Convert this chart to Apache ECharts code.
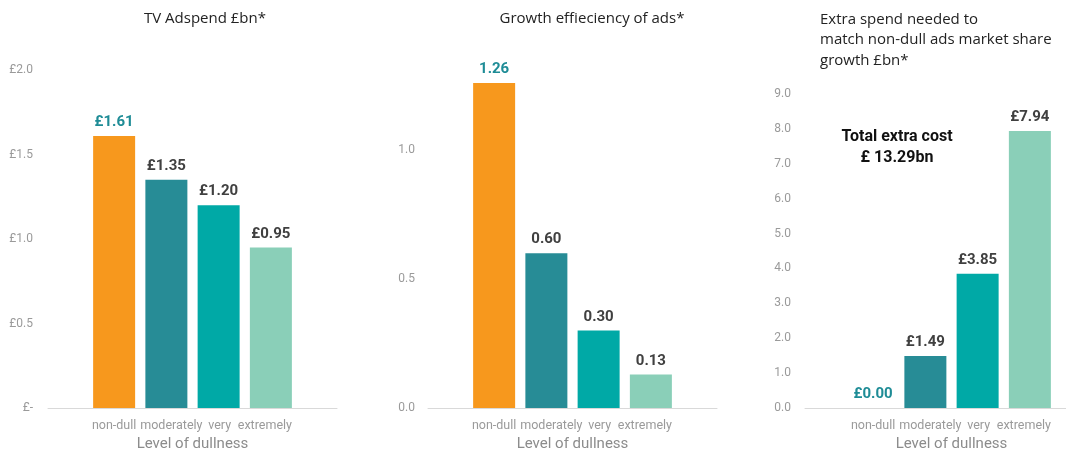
<!DOCTYPE html>
<html>
<head>
<meta charset="utf-8">
<script src="https://cdn.jsdelivr.net/npm/echarts@6/dist/echarts.min.js"></script>
<style>html,body{margin:0;padding:0;background:#fff}#c{width:1066px;height:450px}</style>
</head>
<body>
<div id="c"></div>
<script>
const categories = ['non-dull', 'moderately', 'very', 'extremely'];
const adspend = [1.61, 1.35, 1.20, 0.95];
const efficiency = [1.26, 0.60, 0.30, 0.13];
const extraSpend = [0.00, 1.49, 3.85, 7.94];
const adspendTicks = ['£-', '£0.5', '£1.0', '£1.5', '£2.0'];
const titles = ['TV Adspend £bn*', 'Growth effieciency of ads*', 'Extra spend needed to\nmatch non-dull ads market share\ngrowth £bn*'];
const totalNote = 'Total extra cost\n£ 13.29bn';
const axisTitle = 'Level of dullness';

const barColors = ['#F7981D', '#278C96', '#00A9A6', '#8ACFB8'];
const labelPads = [[0, 0, 0, 0], [0, 0, 0, 10], [0, 0, 0, 2], [0, 12, 0, 0]];
const FONT = 'Roboto';

const chart = echarts.init(document.getElementById('c'), null, {renderer: 'canvas'});

const panels = [
  {left: 88, top: 70, height: 338, baseLeft: 48, baseWidth: 289, max: 2.0, interval: 0.5, margin: 55,
   fmt: v => adspendTicks[Math.round(v / 0.5)], data: adspend, lab: v => '£' + v.toFixed(2)},
  {left: 468, top: 46.8, height: 361.2, baseLeft: 428, baseWidth: 289, max: 1.4, interval: 0.5, margin: 53,
   fmt: v => v.toFixed(1), data: efficiency, lab: v => v.toFixed(2)},
  {left: 847, top: 94, height: 314, baseLeft: 805, baseWidth: 261, max: 9, interval: 1, margin: 56,
   fmt: v => v.toFixed(1), data: extraSpend, lab: v => '£' + v.toFixed(2)}
];

const grid = [], xAxis = [], yAxis = [], series = [];
panels.forEach((p, i) => {
  grid.push({left: p.left, top: p.top, width: 209, height: p.height, containLabel: false, outerBoundsMode: 'none'});
  grid.push({left: p.baseLeft, top: p.top, width: p.baseWidth, height: p.height, containLabel: false, outerBoundsMode: 'none'});
  const g = i * 2;
  xAxis.push({
    type: 'category', gridIndex: g,
    data: categories.map((c, k) => ({value: c, textStyle: {padding: labelPads[k]}})),
    axisLine: {show: false}, axisTick: {show: false},
    axisLabel: {color: '#9a9a9a', fontFamily: FONT, fontSize: 12.5, margin: 11, interval: 0, hideOverlap: false},
    name: axisTitle, nameLocation: 'middle', nameGap: 28,
    nameTextStyle: {color: '#8c8c8c', fontFamily: FONT, fontSize: 15}
  });
  yAxis.push({
    type: 'value', gridIndex: g, min: 0, max: p.max, interval: p.interval,
    axisLine: {show: false}, axisTick: {show: false}, splitLine: {show: false},
    axisLabel: {color: '#9a9a9a', fontFamily: FONT, fontSize: 12, margin: p.margin,
      formatter: p.fmt, showMaxLabel: p.max % p.interval === 0}
  });
  xAxis.push({
    type: 'value', gridIndex: g + 1, min: 0, max: 1, position: 'bottom',
    axisLine: {show: true, lineStyle: {color: '#d9d9d9', width: 1}},
    axisTick: {show: false}, axisLabel: {show: false}, splitLine: {show: false}
  });
  yAxis.push({type: 'value', gridIndex: g + 1, show: false, min: 0, max: 1});
  series.push({
    type: 'bar', xAxisIndex: g, yAxisIndex: g, barWidth: 42, z: 3,
    data: p.data.map((v, k) => ({
      value: v,
      itemStyle: {color: barColors[k]},
      label: {color: k === 0 ? '#1E8C96' : '#404040'}
    })),
    label: {show: true, position: 'top', distance: 6, fontFamily: FONT, fontWeight: 'bold', fontSize: 15,
      formatter: d => p.lab(d.value)}
  });
});

chart.setOption({
  animation: false,
  grid, xAxis, yAxis, series,
  title: [
    {text: titles[0], left: 200, top: 6, textAlign: 'center',
     textStyle: {fontFamily: 'Open Sans', fontWeight: 'normal', fontSize: 15, color: '#222'}},
    {text: titles[1], left: 587, top: 6, textAlign: 'center',
     textStyle: {fontFamily: 'Open Sans', fontWeight: 'normal', fontSize: 15, color: '#222'}},
    {text: titles[2], left: 815, top: 4,
     textStyle: {fontFamily: 'Open Sans', fontWeight: 'normal', fontSize: 15, color: '#222', lineHeight: 20.5}},
    {text: totalNote, left: 892, top: 121, textAlign: 'center',
     textStyle: {fontFamily: FONT, fontWeight: 'bold', fontSize: 16, color: '#111', lineHeight: 21, align: 'center'}}
  ]
});
</script>
</body>
</html>
